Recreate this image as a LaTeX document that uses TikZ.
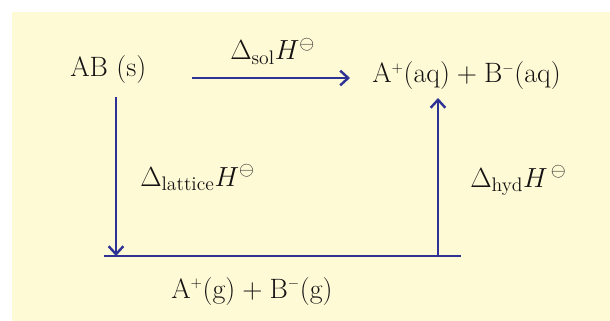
\documentclass[tikz,border=0pt]{standalone}
\usepackage{amsmath,amssymb}
\usetikzlibrary{arrows.meta,calc}
\definecolor{cream}{RGB}{255,250,214}
\definecolor{inkblue}{RGB}{46,50,148}
\definecolor{txt}{RGB}{20,18,18}
\tikzset{
  species/.style={anchor=base west, inner sep=0pt, text=txt,
                  font=\fontsize{21}{24}\selectfont},
  enth/.style={anchor=base west, inner sep=0pt, text=txt,
               font=\fontsize{21}{24}\selectfont},
  flow/.style={-{Straight Barb[length=6pt,width=11pt,line width=1.8pt]}, inkblue, line width=1.8pt},
  level/.style={inkblue, line width=1.8pt},
}
\newcommand{\stdH}{H^{\ominus}}
\newcommand{\ionp}{$^{\scriptscriptstyle +}$}
\newcommand{\ionm}{$^{\scriptscriptstyle -}$}
\newcommand{\plusgap}{\hspace{0.25em}+\hspace{0.25em}}

\begin{document}
\begin{tikzpicture}[x=0.75pt,y=-0.75pt]
    \useasboundingbox (0,0) rectangle (610,321);
    \fill[cream] (12,12) rectangle (610,321);
    % species
    \node[species] (ab) at (70,77) {AB (s)};
    \node[species] (aq) at (372,83) {A\ionp(aq)\plusgap B\ionm(aq)};
    \node[species] (gas) at (171,298) {A\ionp(g)\plusgap B\ionm(g)};
    % gaseous-ion level
    \coordinate (g0) at (104,256);
    \coordinate (gl) at (116,256);
    \coordinate (gr) at (438,256);
    \coordinate (g3) at (461,256);
    \draw[level] (g0) -- (g3);
    % arrows
    \draw[flow] ([shift={(122,1)}]ab.base west) -- ([shift={(-22,-5)}]aq.base west);
    \draw[flow] ([shift={(46,20)}]ab.base west) -- (gl);
    \draw[flow] (gr) -- ([shift={(66,15)}]aq.base west);
    % enthalpy labels
    \node[enth] (sol) at (230,60) {$\Delta_{\text{sol}}\stdH$};
    \node[enth] (lat) at (140,186) {$\Delta_{\text{lattice}}\stdH$};
    \node[enth] (hyd) at (470,187) {$\Delta_{\text{hyd}}H^{\,\ominus}$};
  \end{tikzpicture}
\end{document}
